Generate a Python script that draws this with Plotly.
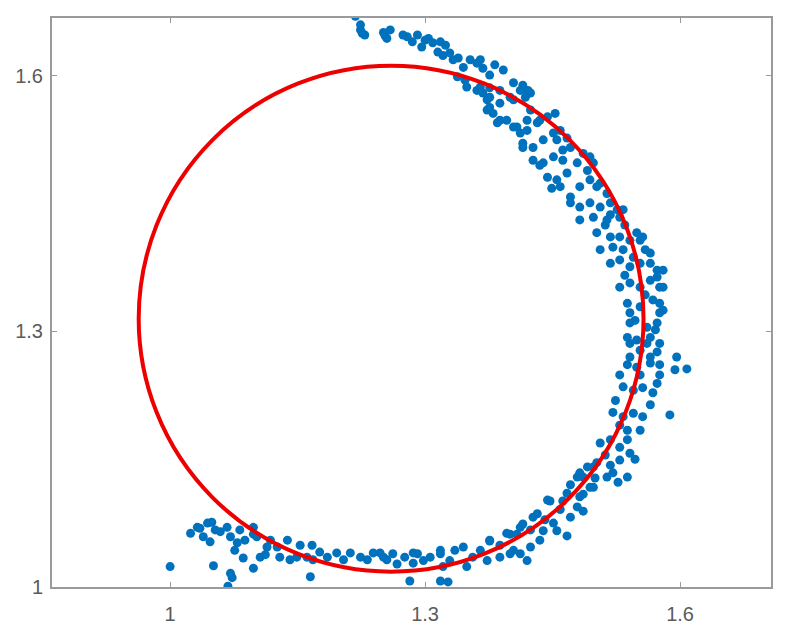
import plotly.graph_objects as go

pts_x = [
    # top segment
    1.218, 1.224, 1.226, 1.229, 1.224, 1.251, 1.255, 1.259, 1.253, 1.279, 1.285, 1.291,
    1.296, 1.304, 1.309, 1.318, 1.315, 1.321, 1.333, 1.339, 1.345, 1.347, 1.349, 1.361,
    1.365, 1.368, 1.365, 1.368, 1.392, 1.376, 1.376, 1.380, 1.385, 1.404, 1.412, 1.418,
    1.396, 1.404, 1.412, 1.420, 1.424,
    1.274, 1.300, 1.324, 1.329, 1.353, 1.382, 1.338, 1.373, 1.400, 1.424, 1.388, 1.435,
    1.415, 1.455, 1.462, 1.435, 1.449,
    # upper right
    1.361, 1.376, 1.388, 1.376, 1.373, 1.388, 1.404, 1.415, 1.421, 1.408, 1.420, 1.432,
    1.444, 1.453, 1.415, 1.427, 1.439, 1.451, 1.459, 1.467, 1.427, 1.439, 1.451, 1.462,
    1.471, 1.486, 1.494, 1.444, 1.455, 1.467, 1.479, 1.491, 1.498, 1.459, 1.471, 1.482,
    1.494, 1.506, 1.514, 1.482, 1.494, 1.506, 1.518, 1.526,
    # right
    1.471, 1.482, 1.498, 1.514, 1.529, 1.533, 1.502, 1.518, 1.529, 1.541, 1.549, 1.553,
    1.506, 1.521, 1.533, 1.545, 1.518, 1.529, 1.541, 1.553, 1.565, 1.573, 1.529, 1.541,
    1.553, 1.565, 1.573, 1.576, 1.538, 1.541, 1.553, 1.568, 1.576, 1.576, 1.541, 1.561,
    1.573, 1.538, 1.549, 1.565, 1.576, 1.541, 1.565,
    1.502, 1.518, 1.556, 1.565, 1.580, 1.580, 1.580, 1.512, 1.535, 1.559, 1.535, 1.559,
    1.547, 1.571, 1.553, 1.573,
    # lower right
    1.541, 1.561, 1.538, 1.549, 1.565, 1.576, 1.596, 1.594, 1.608, 1.533, 1.545, 1.556,
    1.573, 1.568, 1.521, 1.533, 1.545, 1.556, 1.588, 1.538, 1.506, 1.518, 1.529, 1.538,
    1.541, 1.547, 1.491, 1.502, 1.518, 1.521, 1.482, 1.538, 1.527, 1.514, 1.494, 1.486,
    1.479, 1.447, 1.462, 1.471, 1.486, 1.432, 1.439, 1.455, 1.467, 1.415, 1.408, 1.424,
    1.420, 1.400, 1.400, 1.412, 1.376, 1.373, 1.388, 1.345, 1.349, 1.356, 1.318, 1.321,
    1.329, 1.291, 1.298, 1.282, 1.318, 1.327, 1.262, 1.267,
    1.247, 1.255, 1.286, 1.286, 1.318, 1.376, 1.396, 1.404, 1.412, 1.427, 1.435, 1.444,
    1.451, 1.467, 1.479, 1.486, 1.498, 1.498, 1.482,
    1.553, 1.529, 1.576, 1.524, 1.565, 1.529, 1.553, 1.512, 1.529, 1.500, 1.471, 1.459,
    1.441, 1.424, 1.388, 1.365, 1.335, 1.306, 1.276,
    # bottom left
    1.000, 1.024, 1.032, 1.044, 1.049, 1.039, 1.047, 1.059, 1.067, 1.071, 1.079, 1.076,
    1.051, 1.071, 1.073, 1.068, 1.086, 1.098, 1.102, 1.106, 1.098, 1.098, 1.114, 1.126,
    1.129, 1.138, 1.141, 1.149, 1.161, 1.167, 1.168, 1.165, 1.185, 1.196, 1.204, 1.224,
    1.232, 1.239, 1.251,
    1.212, 1.176, 1.153, 1.118, 1.088, 1.053, 1.035, 1.082, 1.112,
]
pts_y = [
    # top segment
    1.670, 1.660, 1.650, 1.648, 1.654, 1.651, 1.644, 1.654, 1.647, 1.646, 1.640, 1.648,
    1.634, 1.644, 1.639, 1.640, 1.628, 1.624, 1.619, 1.621, 1.610, 1.595, 1.587, 1.615,
    1.619, 1.609, 1.587, 1.580, 1.607, 1.601, 1.563, 1.556, 1.545, 1.592, 1.583, 1.575,
    1.548, 1.540, 1.533, 1.548, 1.560,
    1.648, 1.642, 1.636, 1.627, 1.619, 1.613, 1.599, 1.572, 1.575, 1.580, 1.548, 1.548,
    1.521, 1.525, 1.501, 1.495, 1.468,
    # upper right
    1.583, 1.586, 1.583, 1.575, 1.560, 1.568, 1.572, 1.589, 1.583, 1.540, 1.536, 1.545,
    1.552, 1.556, 1.516, 1.516, 1.525, 1.533, 1.536, 1.527, 1.501, 1.498, 1.505, 1.513,
    1.516, 1.509, 1.505, 1.481, 1.478, 1.486, 1.498, 1.489, 1.498, 1.470, 1.458, 1.470,
    1.478, 1.474, 1.462, 1.446, 1.451, 1.446, 1.451, 1.443,
    # right
    1.451, 1.431, 1.434, 1.431, 1.434, 1.443, 1.416, 1.411, 1.411, 1.407, 1.416, 1.407,
    1.396, 1.399, 1.396, 1.387, 1.380, 1.384, 1.376, 1.380, 1.380, 1.372, 1.352, 1.357,
    1.352, 1.360, 1.364, 1.352, 1.333, 1.322, 1.329, 1.337, 1.333, 1.322, 1.310, 1.305,
    1.310, 1.293, 1.290, 1.293, 1.286, 1.270, 1.270,
    1.470, 1.437, 1.411, 1.392, 1.372, 1.352, 1.325, 1.425, 1.425, 1.396, 1.366, 1.343,
    1.313, 1.302, 1.278, 1.276,
    # lower right
    1.286, 1.286, 1.261, 1.258, 1.263, 1.261, 1.270, 1.255, 1.256, 1.235, 1.231, 1.234,
    1.239, 1.228, 1.205, 1.200, 1.204, 1.200, 1.202, 1.184, 1.169, 1.173, 1.164, 1.173,
    1.157, 1.150, 1.141, 1.146, 1.143, 1.134, 1.134, 1.129, 1.123, 1.129, 1.117, 1.109,
    1.129, 1.101, 1.101, 1.082, 1.089, 1.086, 1.066, 1.066, 1.060, 1.074, 1.062, 1.047,
    1.031, 1.062, 1.039, 1.039, 1.054, 1.031, 1.035, 1.047, 1.024, 1.035, 1.039, 1.024,
    1.031, 1.039, 1.031, 1.007, 1.007, 1.006, 1.039, 1.027,
    1.040, 1.032, 1.040, 1.028, 1.043, 1.055, 1.063, 1.043, 1.070, 1.082, 1.055, 1.102,
    1.075, 1.110, 1.094, 1.129, 1.141, 1.117, 1.106,
    1.249, 1.249, 1.249, 1.219, 1.214, 1.190, 1.184, 1.155, 1.149, 1.128, 1.120, 1.091,
    1.079, 1.067, 1.049, 1.043, 1.043, 1.035, 1.035,
    # bottom left
    1.024, 1.063, 1.070, 1.075, 1.076, 1.059, 1.053, 1.065, 1.070, 1.059, 1.052, 1.043,
    1.025, 1.016, 1.011, 1.001, 1.034, 1.070, 1.059, 1.035, 1.022, 1.062, 1.047, 1.047,
    1.035, 1.055, 1.032, 1.035, 1.035, 1.049, 1.032, 1.012, 1.035, 1.040, 1.032, 1.035,
    1.032, 1.040, 1.035,
    1.040, 1.041, 1.049, 1.055, 1.055, 1.067, 1.069, 1.067, 1.038,
]

# Fitted circle
circle_cx = 1.26
circle_cy = 1.315
circle_r = 0.297

x_ticks = [1, 1.3, 1.6]
x_tick_labels = ["1", "1.3", "1.6"]
y_ticks = [1, 1.3, 1.6]
y_tick_labels = ["1", "1.3", "1.6"]
x_range = [0.861, 1.707]
y_range = [1.0, 1.668]

fig = go.Figure()
fig.add_trace(go.Scatter(
    x=pts_x, y=pts_y, mode="markers",
    marker=dict(color="#0072BD", size=9, line=dict(width=0)),
    showlegend=False, hoverinfo="x+y",
))

fig.add_shape(
    type="circle", xref="x", yref="y",
    x0=circle_cx - circle_r, x1=circle_cx + circle_r,
    y0=circle_cy - circle_r, y1=circle_cy + circle_r,
    line=dict(color="#EE0000", width=4), layer="above",
)

axis_common = dict(
    showline=True, linecolor="#9a9a9a", linewidth=2, mirror="ticks",
    ticks="inside", ticklen=5, tickwidth=1, tickcolor="#9a9a9a",
    showgrid=False, zeroline=False, automargin=False,
    tickfont=dict(family="Liberation Sans, Arial, sans-serif", size=20, color="#5a5a5a"),
)

fig.update_xaxes(range=x_range, tickvals=x_ticks, ticktext=x_tick_labels,
                 ticklabelstandoff=8, **axis_common)
fig.update_yaxes(range=y_range, tickvals=y_ticks, ticktext=y_tick_labels,
                 ticklabelstandoff=3, **axis_common)

# page body adds an 8px offset; margins compensate so the frame sits at 52..771 x 18..587
fig.update_layout(
    width=788, height=634,
    margin=dict(l=44, r=25, t=10, b=55),
    paper_bgcolor="white", plot_bgcolor="white",
)

fig.write_html("out.html")
